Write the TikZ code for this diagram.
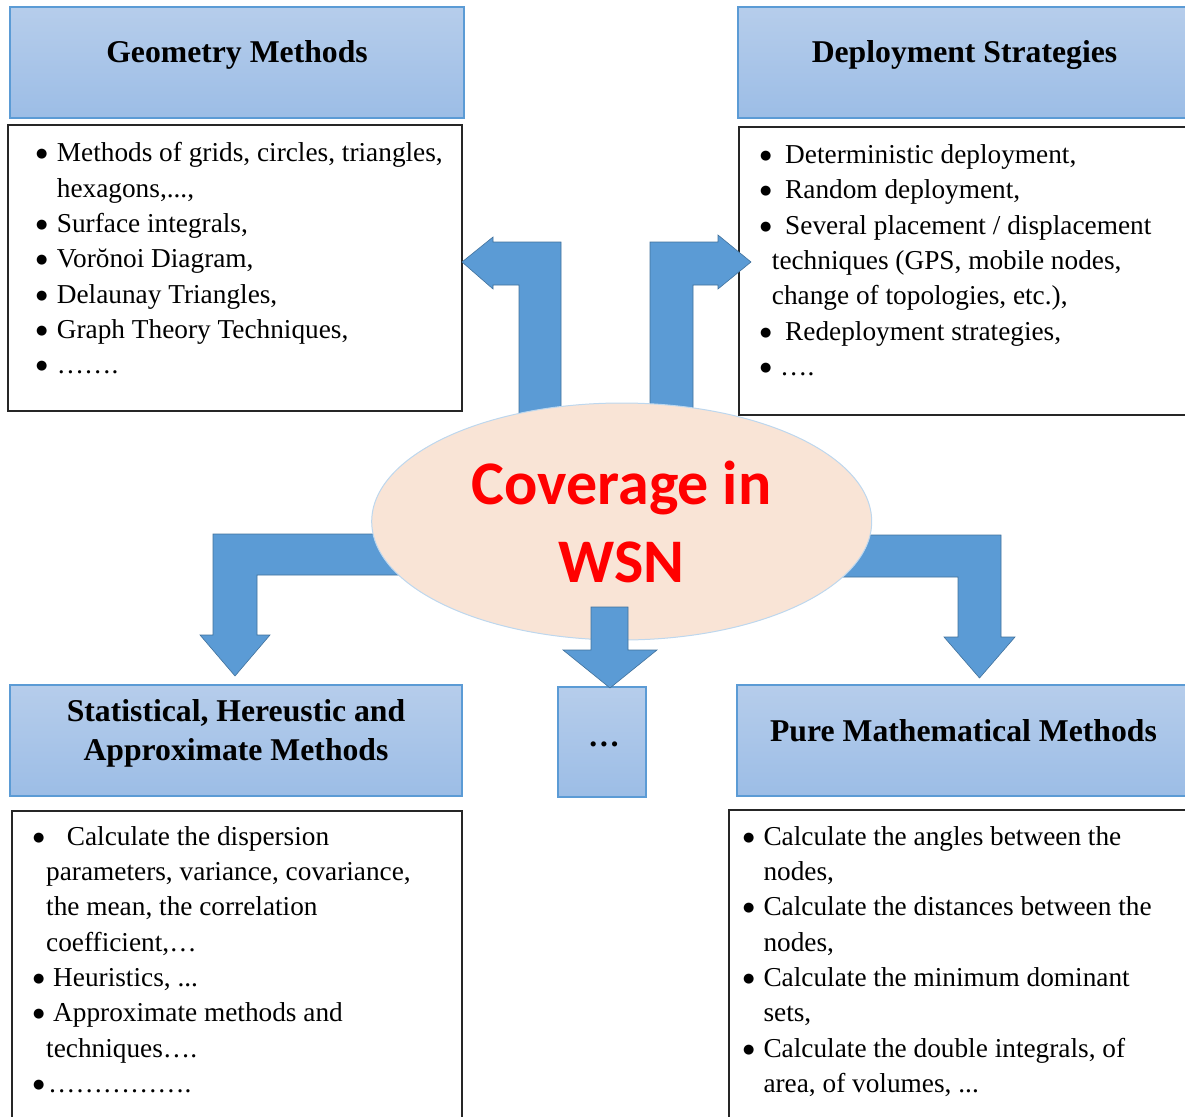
\documentclass[tikz,border=0pt]{standalone}
\usepackage{fontspec}
\setmainfont{Liberation Serif}
\newfontfamily\calibri{Carlito}
\newfontfamily\dejavu{DejaVu Sans}
\usetikzlibrary{shapes.geometric}

\definecolor{headtop}{RGB}{182,205,235}
\definecolor{headbot}{RGB}{156,189,230}
\definecolor{headline}{RGB}{91,155,213}
\definecolor{arrowfill}{RGB}{91,155,213}
\definecolor{arrowline}{RGB}{65,113,156}
\definecolor{peach}{RGB}{249,228,214}
\definecolor{ovalline}{RGB}{189,215,238}

\newcommand{\bul}[1]{\makebox[#1][l]{\raisebox{4pt}{\dejavu\fontsize{13}{13}\selectfont ●}}}
\newcommand{\ind}[1]{\hspace*{#1}}

\begin{document}
\begin{tikzpicture}[x=1pt,y=-1pt,
    headbox/.style={draw=headline,line width=1.5pt,top color=headtop,bottom color=headbot,inner sep=0pt},
    headtext/.style={font=\fontsize{31.7}{38.3}\selectfont\bfseries,align=center,inner sep=0pt},
    listbox/.style={draw=black!85,line width=1.8pt,fill=white,inner sep=0pt},
    listtext/.style={font=\fontsize{27.3}{35.3}\selectfont,align=left,anchor=north west,inner sep=0pt},
    blockarrow/.style={fill=arrowfill,draw=arrowline,line width=0.6pt,line join=miter}]
    \useasboundingbox (0,0) rectangle (1185,1116);
    \clip (0,0) rectangle (1185,1116);

    % Geometry methods
    \node[headbox,minimum width=454pt,minimum height=111pt] (geohead) at (237,62.5) {};
    \node[headtext,anchor=base] (geotitle) at (237,63) {Geometry Methods};
    \node[listbox,minimum width=454pt,minimum height=286pt] (geobox) at (235,268) {};
    \node[listtext] (geolist) at (36,137) {\strut\bul{20.7pt}Methods of grids, circles, triangles,\\
        \ind{20.7pt}hexagons,...,\\
        \bul{20.7pt}Surface integrals,\\
        \bul{20.7pt}Vorŏnoi Diagram,\\
        \bul{20.7pt}Delaunay Triangles,\\
        \bul{20.7pt}Graph Theory Techniques,\\
        \bul{20.7pt}…….};

    % Deployment strategies
    \node[headbox,minimum width=453pt,minimum height=111pt] (dephead) at (964.5,62.5) {};
    \node[headtext,anchor=base] (deptitle) at (964.5,63) {Deployment Strategies};
    \node[listbox,minimum width=452pt,minimum height=288pt] (depbox) at (965,271) {};
    \node[listtext] (deplist) at (760,138.6) {\strut\bul{25pt}Deterministic deployment,\\
        \bul{25pt}Random deployment,\\
        \bul{25pt}Several placement / displacement\\
        \ind{11.7pt}techniques (GPS, mobile nodes,\\
        \ind{11.7pt}change of topologies, etc.),\\
        \bul{25pt}Redeployment strategies,\\
        \bul{20pt}….};

    % Statistical methods
    \node[headbox,minimum width=452pt,minimum height=111pt] (stathead) at (236,740.5) {};
    \node[headtext,anchor=north] (stattitle) at (236,694.9) {\strut Statistical, Hereustic and\\ Approximate Methods};
    \node[listbox,minimum width=450pt,minimum height=314pt] (statbox) at (237,968) {};
    \node[listtext] (statlist) at (33,820.3) {\strut\bul{33.7pt}Calculate the dispersion\\
        \ind{13pt}parameters, variance, covariance,\\
        \ind{13pt}the mean, the correlation\\
        \ind{13pt}coefficient,…\\
        \bul{20pt}Heuristics, ...\\
        \bul{20pt}Approximate methods and\\
        \ind{13pt}techniques….\\
        \bul{15pt}…………….};

    % Other methods
    \node[headbox,minimum width=88pt,minimum height=110pt] (morehead) at (602,742) {};
    \node[headtext,anchor=base] (moretitle) at (604,746) {…};

    % Pure mathematical methods
    \node[headbox,minimum width=454pt,minimum height=111pt] (purehead) at (964,740.5) {};
    \node[headtext,anchor=base] (puretitle) at (963.5,741) {Pure Mathematical Methods};
    \node[listbox,minimum width=462pt,minimum height=315pt] (purebox) at (960,967.5) {};
    \node[listtext] (purelist) at (743,820.3) {\strut\bul{20.3pt}Calculate the angles between the\\
        \ind{20.3pt}nodes,\\
        \bul{20.3pt}Calculate the distances between the\\
        \ind{20.3pt}nodes,\\
        \bul{20.3pt}Calculate the minimum dominant\\
        \ind{20.3pt}sets,\\
        \bul{20.3pt}Calculate the double integrals, of\\
        \ind{20.3pt}area, of volumes, ...};

    % Block arrows
    \filldraw[blockarrow] (462,262) -- (493,237) -- (493,242) -- (561,242) -- (561,430)
        -- (519,430) -- (519,285) -- (493,285) -- (493,289) -- cycle;
    \filldraw[blockarrow] (751,262) -- (718,235) -- (718,242) -- (650,242) -- (650,430)
        -- (693,430) -- (693,285) -- (718,285) -- (718,289) -- cycle;
    \filldraw[blockarrow] (420,534) -- (213,534) -- (213,635) -- (200,635) -- (235,676)
        -- (270,635) -- (257,635) -- (257,575) -- (420,575) -- cycle;
    \filldraw[blockarrow] (820,535) -- (1001,535) -- (1001,637) -- (1015,637) -- (979.5,678)
        -- (944,637) -- (958,637) -- (958,577) -- (820,577) -- cycle;

    % Coverage in WSN
    \node[ellipse,draw=ovalline,line width=1pt,fill=peach,minimum width=500pt,minimum height=237pt,
        inner sep=0pt,align=center,text=red,font=\calibri\bfseries\fontsize{62}{78}\selectfont]
        (wsn) at (621.7,521.5) {Coverage in\\ WSN};

    \filldraw[blockarrow] (591,607) -- (628,607) -- (628,650) -- (657,650) -- (610,688)
        -- (563,650) -- (591,650) -- cycle;
\end{tikzpicture}
\end{document}
